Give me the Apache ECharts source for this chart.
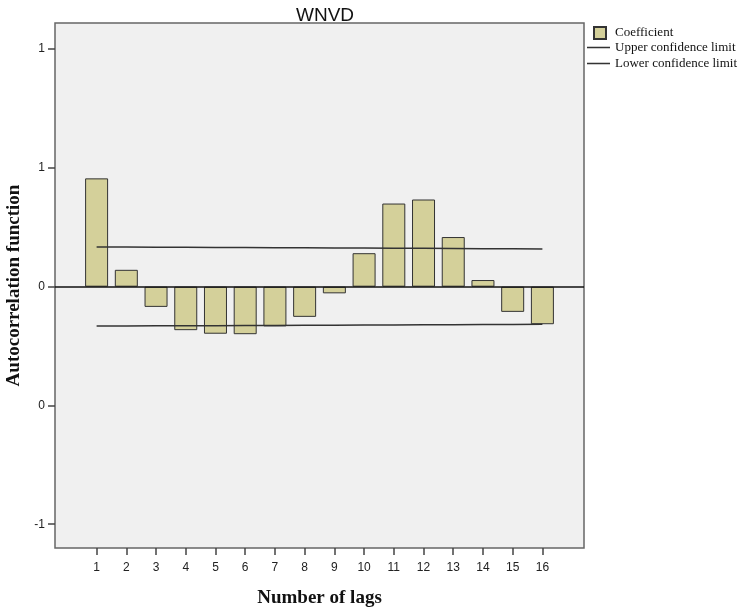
<!DOCTYPE html>
<html>
<head>
<meta charset="utf-8">
<script src="https://cdn.jsdelivr.net/npm/echarts@6/dist/echarts.min.js"></script>
<style>html,body{margin:0;padding:0;background:#fff}#c{width:752px;height:607px}</style>
</head>
<body>
<div id="c"></div>
<script>
var lags = [1,2,3,4,5,6,7,8,9,10,11,12,13,14,15,16];
var coefficient = [0.456,0.071,-0.085,-0.183,-0.198,-0.200,-0.167,-0.127,-0.028,0.141,0.350,0.367,0.209,0.028,-0.106,-0.158];
var upperLimit = [0.167,0.167,0.166,0.166,0.165,0.165,0.164,0.164,0.163,0.163,0.162,0.162,0.161,0.160,0.160,0.159];
var lowerLimit = [-0.165,-0.165,-0.164,-0.164,-0.164,-0.163,-0.163,-0.162,-0.162,-0.161,-0.161,-0.160,-0.160,-0.159,-0.159,-0.158];
var yTickValues = [-1,-0.5,0,0.5,1];
var yTickLabels = ['-1','0','0','1','1'];

function pairs(v){ return lags.map(function(l,i){ return [l, v[i]]; }); }
var lineIcon = 'path://M0,0H24V1.6H0Z';

var chart = echarts.init(document.getElementById('c'), null, {renderer:'canvas'});
chart.setOption({
  animation:false,
  title:{text:'WNVD', left:320, textAlign:'center', top:1,
    textStyle:{fontFamily:'Liberation Sans, Arial, sans-serif', fontSize:19, fontWeight:'normal', color:'#111'}},
  legend:[
    {orient:'vertical', left:593, top:26, padding:0, itemWidth:12, itemHeight:12, itemGap:3,
     data:[{name:'Coefficient', icon:'rect'}],
     textStyle:{fontFamily:'Liberation Serif, Times New Roman, serif', fontSize:13, color:'#111', padding:[0,0,0,4]}},
    {orient:'vertical', left:587, top:41, padding:0, itemWidth:23, itemHeight:12, itemGap:3,
     data:[{name:'Upper confidence limit', icon:lineIcon},{name:'Lower confidence limit', icon:lineIcon}],
     textStyle:{fontFamily:'Liberation Serif, Times New Roman, serif', fontSize:13, color:'#111', padding:[0,0,0,0]}}
  ],
  grid:{left:55, right:168, top:23, bottom:59, outerBoundsMode:'none', containLabel:false,
    show:true, backgroundColor:'#f0f0f0', borderColor:'#666', borderWidth:1.5},
  xAxis:{type:'value', min:-0.4, max:17.4,
    name:'Number of lags', nameLocation:'middle', nameGap:41,
    nameTextStyle:{fontFamily:'Liberation Serif, Times New Roman, serif', fontSize:19, fontWeight:'bold', color:'#111'},
    axisLine:{show:false, onZero:false}, splitLine:{show:false},
    axisTick:{show:true, length:7, customValues:lags, lineStyle:{color:'#444', width:1.5}},
    axisLabel:{customValues:lags, margin:14, fontFamily:'Liberation Sans, Arial, sans-serif', fontSize:12, color:'#222'}},
  yAxis:{type:'value', min:-1.10, max:1.11,
    name:'Autocorrelation function', nameLocation:'middle', nameRotate:90, nameGap:28,
    nameTextStyle:{fontFamily:'Liberation Serif, Times New Roman, serif', fontSize:19, fontWeight:'bold', color:'#111'},
    axisLine:{show:false, onZero:false}, splitLine:{show:false},
    axisTick:{show:true, length:7, customValues:yTickValues, lineStyle:{color:'#444', width:1.5}},
    axisLabel:{customValues:yTickValues, margin:10, fontFamily:'Liberation Sans, Arial, sans-serif', fontSize:12, color:'#222',
      formatter:function(v){ var i = yTickValues.indexOf(v); return i>=0 ? yTickLabels[i] : ''; }}},
  series:[
    {name:'Coefficient', type:'bar', barWidth:23, data:pairs(coefficient),
     itemStyle:{color:'#d4d09a', borderColor:'#333', borderWidth:1},
     markLine:{silent:true, symbol:'none', label:{show:false}, lineStyle:{color:'#111', width:1.5, type:'solid'},
       data:[{yAxis:0}]}},
    {name:'Upper confidence limit', type:'line', symbol:'none', data:pairs(upperLimit),
     lineStyle:{color:'#333', width:1.5}, itemStyle:{color:'#333'}},
    {name:'Lower confidence limit', type:'line', symbol:'none', data:pairs(lowerLimit),
     lineStyle:{color:'#333', width:1.5}, itemStyle:{color:'#333'}}
  ]
});
</script>
</body>
</html>
